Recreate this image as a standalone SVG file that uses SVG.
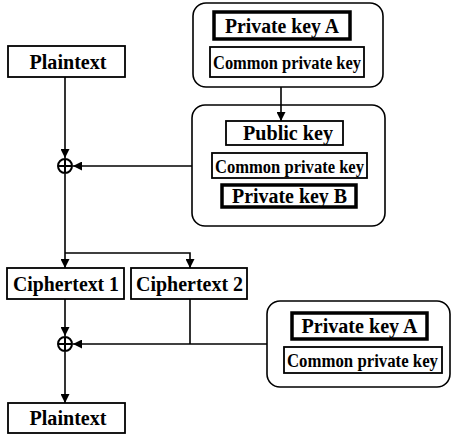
<svg xmlns="http://www.w3.org/2000/svg" width="452" height="436" viewBox="0 0 452 436">
  <style>
    .bg { fill: #ffffff; }
    .box { fill: #ffffff; stroke: #000; stroke-width: 1.8; }
    .thick { fill: #ffffff; stroke: #000; stroke-width: 3.5; }
    .group { fill: #ffffff; stroke: #000; stroke-width: 1.6; }
    .big { font-family: "Liberation Serif", "Times New Roman", serif; font-weight: bold; font-size: 20px; fill: #000; text-anchor: middle; }
    .small { font-family: "Liberation Serif", "Times New Roman", serif; font-weight: bold; font-size: 18px; fill: #000; text-anchor: middle; }
    .wire { fill: none; stroke: #000; stroke-width: 1.6; }
    .xor { fill: #ffffff; stroke: #000; stroke-width: 2; }
  </style>
  <defs>
    <marker id="arrow" viewBox="0 0 10 10" refX="10" refY="5" markerWidth="9" markerHeight="9" markerUnits="userSpaceOnUse" orient="auto">
      <path d="M0,0 L10,5 L0,10 z" fill="#000"/>
    </marker>
  </defs>
  <rect class="bg" x="0" y="0" width="452" height="436"/>

  <!-- key holder A (top) -->
  <g id="keysA-top">
    <rect class="group" x="193" y="3" width="190" height="84" rx="13"/>
    <rect class="thick" x="214" y="12" width="136" height="27"/>
    <text class="big" x="282" y="33" textLength="114" lengthAdjust="spacingAndGlyphs">Private key A</text>
    <rect class="box" x="210" y="47" width="154" height="30"/>
    <text class="small" x="287" y="68.5" textLength="148" lengthAdjust="spacingAndGlyphs">Common private key</text>
  </g>

  <!-- key holder B (middle) -->
  <g id="keysB">
    <rect class="group" x="192" y="105" width="193" height="121" rx="13"/>
    <rect class="box" x="226" y="121" width="117" height="24"/>
    <text class="big" x="288" y="140" textLength="90" lengthAdjust="spacingAndGlyphs">Public key</text>
    <rect class="box" x="212" y="153" width="155" height="25"/>
    <text class="small" x="289.5" y="172.5" textLength="149" lengthAdjust="spacingAndGlyphs">Common private key</text>
    <rect class="thick" x="222" y="185" width="134" height="22"/>
    <text class="big" x="289.5" y="203" textLength="115" lengthAdjust="spacingAndGlyphs">Private key B</text>
  </g>

  <!-- key holder A (bottom) -->
  <g id="keysA-bottom">
    <rect class="group" x="267" y="301" width="183" height="86" rx="13"/>
    <rect class="thick" x="292" y="313" width="135" height="26"/>
    <text class="big" x="359.5" y="333" textLength="116" lengthAdjust="spacingAndGlyphs">Private key A</text>
    <rect class="box" x="284" y="347" width="158" height="26"/>
    <text class="small" x="362.5" y="367" textLength="151" lengthAdjust="spacingAndGlyphs">Common private key</text>
  </g>

  <g id="plaintext-in">
    <rect class="box" x="8" y="46" width="117" height="31"/>
    <text class="big" x="68" y="69" textLength="77" lengthAdjust="spacingAndGlyphs">Plaintext</text>
  </g>

  <g id="ciphertext1">
    <rect class="box" x="7" y="268" width="117" height="31"/>
    <text class="big" x="66" y="291" textLength="106" lengthAdjust="spacingAndGlyphs">Ciphertext 1</text>
  </g>

  <g id="ciphertext2">
    <rect class="box" x="131" y="268" width="116" height="31"/>
    <text class="big" x="189.5" y="291" textLength="107" lengthAdjust="spacingAndGlyphs">Ciphertext 2</text>
  </g>

  <g id="plaintext-out">
    <rect class="box" x="8" y="403" width="117" height="30"/>
    <text class="big" x="68" y="425" textLength="77" lengthAdjust="spacingAndGlyphs">Plaintext</text>
  </g>

  <!-- connectors -->
  <g id="connectors">
    <path class="wire" d="M281,87 L281,121" marker-end="url(#arrow)"/>
    <path class="wire" d="M65,77 L65,158" marker-end="url(#arrow)"/>
    <path class="wire" d="M192,166 L73,166" marker-end="url(#arrow)"/>
    <path class="wire" d="M65,174 L65,268" marker-end="url(#arrow)"/>
    <path class="wire" d="M65,253 L190,253 L190,268" marker-end="url(#arrow)"/>
    <path class="wire" d="M65,299 L65,336" marker-end="url(#arrow)"/>
    <path class="wire" d="M190,299 L190,344"/>
    <path class="wire" d="M267,344 L73,344" marker-end="url(#arrow)"/>
    <path class="wire" d="M65,352 L65,403" marker-end="url(#arrow)"/>
  </g>

  <!-- XOR operators -->
  <g id="xor1">
    <circle class="xor" cx="65" cy="166" r="7"/>
    <path class="wire" d="M58,166 H72 M65,159 V173" style="stroke-width:2"/>
  </g>
  <g id="xor2">
    <circle class="xor" cx="65" cy="344" r="7"/>
    <path class="wire" d="M58,344 H72 M65,337 V351" style="stroke-width:2"/>
  </g>
</svg>
